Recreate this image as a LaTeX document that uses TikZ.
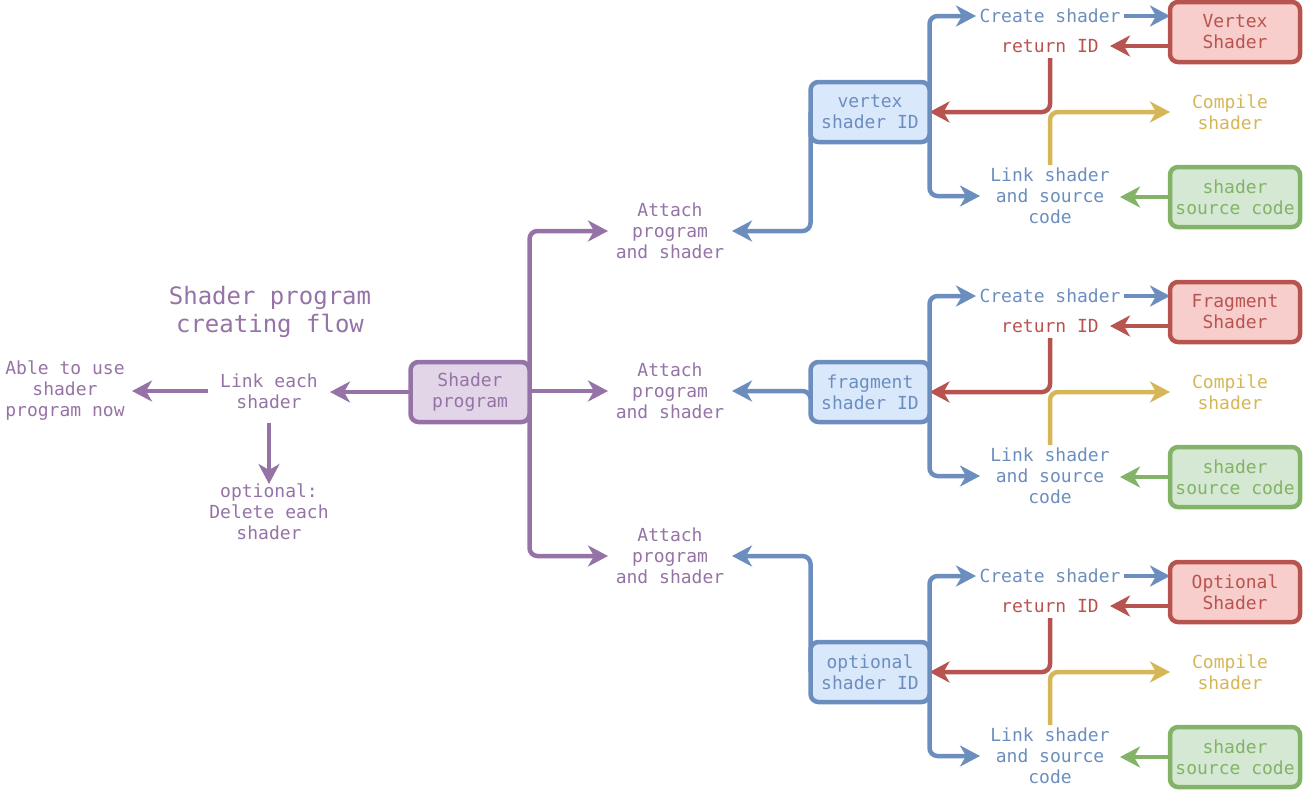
\documentclass[tikz,border=0pt]{standalone}
\usepackage{fontspec}
\newfontfamily\mono{DejaVu Sans Mono}
\usetikzlibrary{arrows.meta,calc,backgrounds}
\definecolor{pur}{HTML}{9673A6}
\definecolor{purf}{HTML}{E1D5E7}
\definecolor{blu}{HTML}{6C8EBF}
\definecolor{bluf}{HTML}{DAE8FC}
\definecolor{red}{HTML}{B85450}
\definecolor{redf}{HTML}{F8CECC}
\definecolor{yel}{HTML}{D6B656}
\definecolor{grn}{HTML}{82B366}
\definecolor{grnf}{HTML}{D5E8D4}
\tikzset{
  lbl/.style={font=\mono\fontsize{18}{21}\selectfont, align=center, inner sep=0pt, outer sep=0pt},
  box/.style={lbl, draw, line width=4.5pt, rounded corners=8pt, minimum width=119pt, minimum height=60pt, outer sep=0pt},
  conn/.style={line width=4.5pt, rounded corners=8pt, -{Stealth[length=20pt,width=21pt,inset=6pt]}},
  pconn/.style={conn, draw=pur},
  bconn/.style={conn, draw=blu},
  rconn/.style={conn, draw=red},
  yconn/.style={conn, draw=yel},
  gconn/.style={conn, draw=grn},
}
\begin{document}
\begin{tikzpicture}[x=1pt,y=-1pt]
\useasboundingbox (0,0) rectangle (1303,790);
% left part
\node[lbl, text=pur, font=\mono\fontsize{24}{28}\selectfont] (title) at (270,312) {Shader program\\creating flow};
\node[box, draw=pur, fill=purf, text=pur] (sp) at (470,392) {Shader\\program};
\node[lbl, text=pur, minimum width=122pt, minimum height=64pt] (link) at (269,391) {Link each\\shader};
\node[lbl, text=pur, minimum width=134pt] (able) at (65,391) {Able to use\\shader\\program now};
\node[lbl, text=pur] (opt) at (269,512) {optional:\\Delete each\\shader};
% attach nodes
\node[lbl, text=pur, minimum width=124pt] (att1) at (670,231) {Attach\\program\\and shader};
\node[lbl, text=pur, minimum width=124pt] (att2) at (670,391) {Attach\\program\\and shader};
\node[lbl, text=pur, minimum width=124pt] (att3) at (670,556) {Attach\\program\\and shader};
\begin{scope}[on background layer]
\draw[pconn] (sp.west) -- (sp.west -| link.east);
\draw[pconn] (link.west) -- (link.west -| able.east);
\draw[pconn] (link.south) -- (opt.north);
\draw[pconn] (sp.east) -- (sp.east |- att1) -- (att1.west);
\draw[pconn] (sp.east |- att2) -- (att2.west);
\draw[pconn] (sp.east) -- (sp.east |- att3) -- (att3.west);
\end{scope}
% groups
\foreach \dy/\nm/\lab/\blab/\at in {0/v/vertex/Vertex/att1, 280/f/fragment/Fragment/att2, 560/o/optional/Optional/att3}{
  \node[box, draw=blu, fill=bluf, text=blu] (\nm id) at (870,112+\dy) {\lab\\shader ID};
  \node[lbl, text=blu, minimum width=148pt] (\nm cr) at (1050,16+\dy) {Create shader};
  \node[box, draw=red, fill=redf, text=red, minimum width=130pt] (\nm sh) at (1235,32+\dy) {\blab\\Shader};
  \node[lbl, text=red, minimum width=120pt, minimum height=24pt] (\nm ret) at (1050,46+\dy) {return ID};
  \node[lbl, text=yel, minimum width=120pt] (\nm cmp) at (1230,112+\dy) {Compile\\shader};
  \node[lbl, text=blu, minimum width=140pt, minimum height=62pt] (\nm lnk) at (1050,196+\dy) {Link shader\\and source\\code};
  \node[box, draw=grn, fill=grnf, text=grn, minimum width=130pt] (\nm src) at (1235,197+\dy) {shader\\source code};
  \begin{scope}[on background layer]
  \draw[bconn] (\nm id.east) -- (\nm id.east |- \nm cr) -- (\nm cr.west);
  \draw[bconn] (\nm id.east) -- (\nm id.east |- \nm lnk) -- (\nm lnk.west);
  \draw[bconn] (\nm cr.east) -- (\nm cr.east -| \nm sh.west);
  \draw[rconn] (\nm sh.west |- \nm ret) -- (\nm ret.east);
  \draw[rconn] (\nm ret.south) -- (\nm ret.south |- \nm id.east) -- (\nm id.east);
  \draw[yconn] (\nm lnk.north) -- (\nm lnk.north |- \nm cmp.west) -- (\nm cmp.west);
  \draw[gconn] (\nm src.west) -- (\nm src.west -| \nm lnk.east);
  \draw[bconn] (\nm id.west) -- (\nm id.west |- \at) -- (\at.east);
  \end{scope}
}
\end{tikzpicture}
\end{document}
